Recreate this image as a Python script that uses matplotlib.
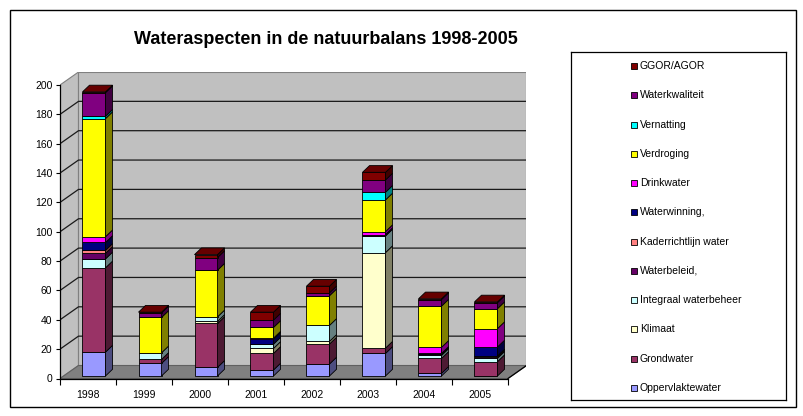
import numpy as np
import matplotlib
matplotlib.use('Agg')
import matplotlib.pyplot as plt
from matplotlib.patches import Polygon, Rectangle
from matplotlib.colors import to_rgb

plt.rcParams['font.family'] = ['Liberation Sans', 'DejaVu Sans']

years = ['1998', '1999', '2000', '2001', '2002', '2003', '2004', '2005']

# stacked from bottom to top
oppervlaktewater = [16.3, 8.6, 5.9, 4.1, 8.2, 15.4, 1.8, 0]
grondwater = [57.4, 2.7, 29.9, 11.3, 13.6, 3.6, 10.2, 9.8]
klimaat = [0, 0, 1.4, 3.4, 1.8, 65.1, 0, 0]
integraal = [6.1, 4.5, 3.1, 2.9, 10.9, 11.3, 2.0, 2.3]
waterbeleid = [3.8, 0, 0, 0, 0, 1.0, 0.7, 0.9]
kaderrichtlijn = [2.0, 0, 0, 0, 0, 0, 0, 0.7]
waterwinning = [5.4, 0, 0, 3.4, 0, 0, 0.7, 6.1]
drinkwater = [3.9, 0, 0, 0.7, 0, 2.0, 4.1, 12.5]
verdroging = [80.5, 24.1, 31.8, 7.3, 20.2, 21.6, 28.1, 13.6]
vernatting = [1.6, 0, 0, 0, 0, 5.2, 0, 0]
waterkwaliteit = [16.1, 3.1, 8.6, 5.0, 2.0, 8.4, 4.5, 4.1]
ggor = [0.5, 0.5, 2.0, 5.4, 4.5, 5.2, 0.5, 0.5]

series = [
    ('Oppervlaktewater', oppervlaktewater, '#9999FF'),
    ('Grondwater', grondwater, '#993366'),
    ('Klimaat', klimaat, '#FFFFCC'),
    ('Integraal waterbeheer', integraal, '#CCFFFF'),
    ('Waterbeleid,', waterbeleid, '#660066'),
    ('Kaderrichtlijn water', kaderrichtlijn, '#FF8080'),
    ('Waterwinning,', waterwinning, '#000080'),
    ('Drinkwater', drinkwater, '#FF00FF'),
    ('Verdroging', verdroging, '#FFFF00'),
    ('Vernatting', vernatting, '#00FFFF'),
    ('Waterkwaliteit', waterkwaliteit, '#800080'),
    ('GGOR/AGOR', ggor, '#800000'),
]


def shade(c, f):
    r, g, b = to_rgb(c)
    return (r * f, g * f, b * f)


W, H = 804, 416
fig = plt.figure(figsize=(W / 100, H / 100), dpi=100)

# pixel geometry of the 3d box
x0_px, y0_px = 60, 378.5
cat_px = 56
val_px = 1.4675
n = len(years)
ymax = 200
dxw, dyw = 18.5 / cat_px, 13 / val_px        # wall depth
bdx, bdy = 7 / cat_px, 6.7 / val_px          # bar depth
bw = 23 / cat_px
base = 2.5 / val_px
shift = 6 / cat_px

ax = fig.add_axes([x0_px / W, (H - y0_px) / H,
                   (n + dxw) * cat_px / W, (ymax + dyw) * val_px / H])
ax.set_xlim(0, n + dxw)
ax.set_ylim(0, ymax + dyw)
ax.patch.set_visible(False)

# walls and floor
ax.add_patch(Polygon([(0, 0), (0, ymax), (dxw, ymax + dyw), (dxw, dyw)],
                     fc='#C0C0C0', ec='#808080', lw=0.8, zorder=0))
ax.add_patch(Rectangle((dxw, dyw), n, ymax, fc='#C0C0C0', ec='#808080',
                       lw=0.8, zorder=0))
ax.add_patch(Polygon([(0, 0), (n, 0), (n + dxw, dyw), (dxw, dyw)],
                     fc='#808080', ec='#606060', lw=0.8, zorder=0))
for v in range(20, ymax, 20):
    ax.plot([0, dxw, n + dxw], [v, v + dyw, v + dyw], color='#1a1a1a',
            lw=0.9, zorder=1)
ax.plot([n, n + dxw], [0, dyw], color='black', lw=0.9, zorder=1)

# bars
lefts = np.arange(n) + 0.5 + shift - bw / 2
bottoms = np.full(n, base)
for name, vals, col in series:
    vals = np.array(vals, dtype=float)
    ax.bar(lefts, vals, width=bw, bottom=bottoms, align='edge', color=col,
           edgecolor='black', lw=0.6, zorder=3)
    for i in range(n):
        if vals[i] <= 0:
            continue
        xr = lefts[i] + bw
        y0, y1 = bottoms[i], bottoms[i] + vals[i]
        ax.add_patch(Polygon([(xr, y0), (xr + bdx, y0 + bdy),
                              (xr + bdx, y1 + bdy), (xr, y1)],
                             fc=shade(col, 0.5), ec='black', lw=0.6, zorder=3))
    bottoms = bottoms + vals

top_col = shade(series[-1][2], 0.8)
for i in range(n):
    t = bottoms[i]
    ax.add_patch(Polygon([(lefts[i], t), (lefts[i] + bdx, t + bdy),
                          (lefts[i] + bw + bdx, t + bdy), (lefts[i] + bw, t)],
                         fc=top_col, ec='black', lw=0.6, zorder=3))

# axes
for s in ['top', 'right']:
    ax.spines[s].set_visible(False)
ax.spines['left'].set_bounds(0, ymax)
ax.spines['bottom'].set_bounds(0, n)
for s in ['left', 'bottom']:
    ax.spines[s].set_color('black')
    ax.spines[s].set_linewidth(0.9)
    ax.spines[s].set_zorder(2)
ax.set_yticks(range(0, ymax + 1, 20))
ax.tick_params(axis='y', direction='out', length=3, width=0.8,
               labelsize=7.5, pad=2.5)
ax.set_xticks(range(n + 1))
ax.set_xticklabels([])
ax.set_xticks(np.arange(n) + 0.5, minor=True)
ax.set_xticklabels(years, minor=True)
ax.tick_params(axis='x', which='major', direction='out', length=4.5,
               width=0.8)
ax.tick_params(axis='x', which='minor', length=0, labelsize=7.5, pad=8)

# title
fig.text(326 / W, 1 - 40 / H, 'Wateraspecten in de natuurbalans 1998-2005',
         ha='center', va='center', fontsize=13, fontweight='bold')

# legend box
lax = fig.add_axes([571 / W, (H - 400) / H, 215 / W, 348 / H])
lax.set_xlim(0, 215)
lax.set_ylim(400, 52)
lax.set_xticks([])
lax.set_yticks([])
for s in lax.spines.values():
    s.set_color('black')
    s.set_linewidth(0.9)
ys = np.linspace(66, 388, len(series))
for y, (name, vals, col) in zip(ys, series[::-1]):
    lax.add_patch(Rectangle((60, y - 3), 6, 6, fc=col, ec='black', lw=0.6))
    lax.text(69, y, name, va='center', ha='left', fontsize=7.5)

# outer border
fig.patches.append(Rectangle((10 / W, 9 / H), 786 / W, 397 / H, fill=False,
                             ec='black', lw=1, transform=fig.transFigure))

fig.savefig('out.png', dpi=100)
